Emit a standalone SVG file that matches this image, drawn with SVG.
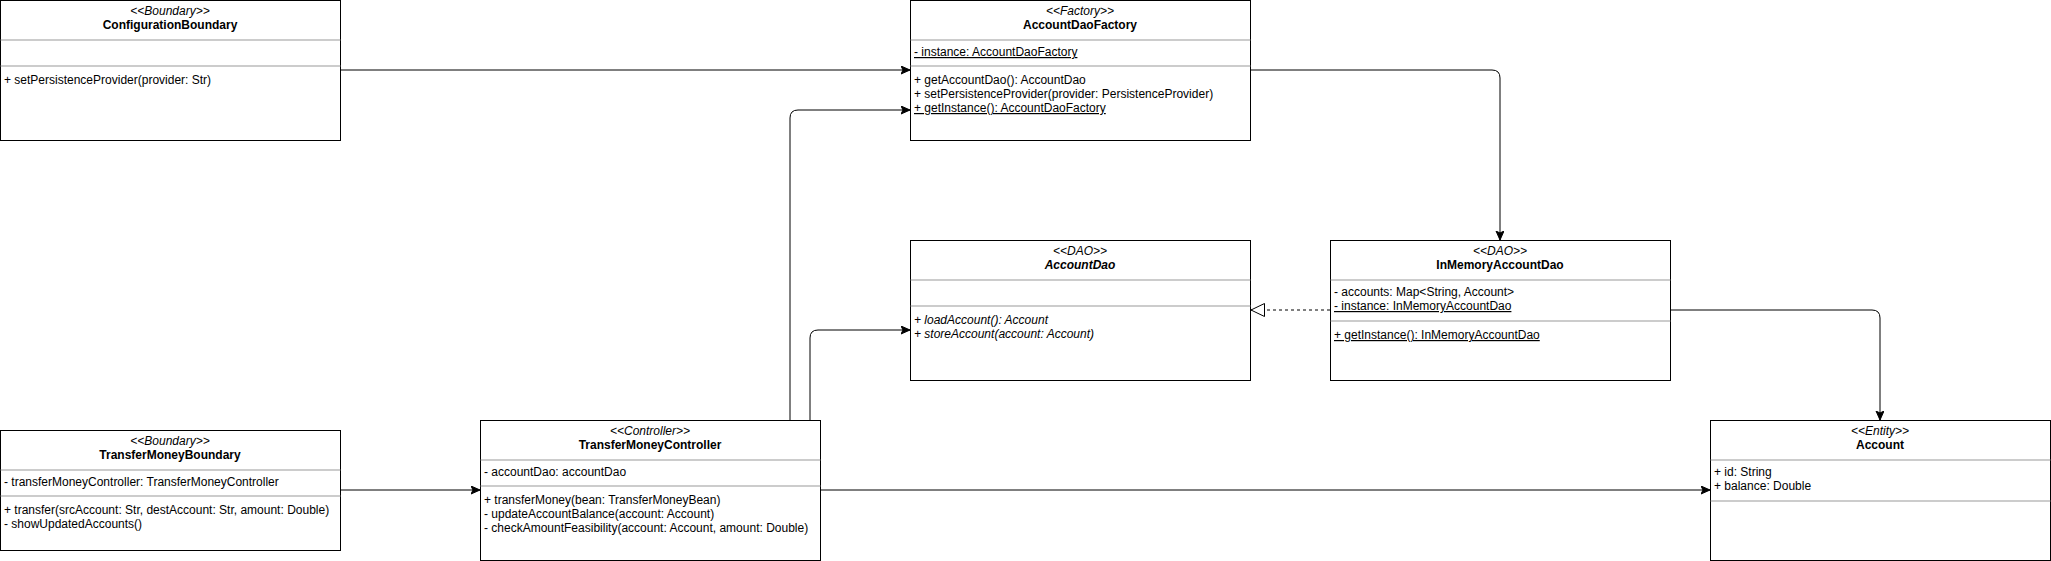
<svg xmlns="http://www.w3.org/2000/svg" width="2051" height="561" viewBox="0 0 2051 561">
<style>
text{font-family:"Liberation Sans",Arial,Helvetica,sans-serif;font-size:12px;fill:#000}
.st{font-style:italic;text-anchor:middle}
.nm{font-weight:bold;text-anchor:middle}
.it{font-style:italic}
.u{text-decoration:underline}
.box{fill:#fff;stroke:#000;stroke-width:1}
.sep{stroke:#999;stroke-width:1}
.edge{fill:none;stroke:#000;stroke-width:1}
.dash{stroke-dasharray:3 3}
</style>
<defs>
<marker id="arr" markerUnits="userSpaceOnUse" markerWidth="10" markerHeight="10" refX="9" refY="4" orient="auto">
<path d="M0,0 L9,4 L0,8 L2,4 Z" fill="#000" stroke="#000" stroke-width="1" stroke-linejoin="miter"/>
</marker>
<marker id="tri" markerUnits="userSpaceOnUse" markerWidth="16" markerHeight="16" refX="14" refY="7" orient="auto">
<path d="M0.5,0.5 L14,7 L0.5,13.5 Z" fill="#fff" stroke="#000" stroke-width="1" stroke-dasharray="none"/>
</marker>
</defs>

<g id="connectors">
<path class="edge" d="M340,70 H910" marker-end="url(#arr)"/>
<path class="edge" d="M1250,70 H1492 Q1500,70 1500,78 V240" marker-end="url(#arr)"/>
<path class="edge dash" d="M1330,310 H1251" marker-end="url(#tri)"/>
<path class="edge" d="M1670,310 H1872 Q1880,310 1880,318 V420" marker-end="url(#arr)"/>
<path class="edge" d="M340,490 H480" marker-end="url(#arr)"/>
<path class="edge" d="M820,490 H1710" marker-end="url(#arr)"/>
<path class="edge" d="M790,420 V118 Q790,110 798,110 H910" marker-end="url(#arr)"/>
<path class="edge" d="M810,420 V338 Q810,330 818,330 H910" marker-end="url(#arr)"/>
</g>

<g id="ConfigurationBoundary">
<rect class="box" x="0.5" y="0.5" width="340" height="140"/>
<line class="sep" x1="0.5" y1="40" x2="340.5" y2="40"/>
<line class="sep" x1="0.5" y1="66" x2="340.5" y2="66"/>
<text class="st" x="170" y="15">&lt;&lt;Boundary&gt;&gt;</text>
<text class="nm" x="170" y="29">ConfigurationBoundary</text>
<text x="4" y="84">+ setPersistenceProvider(provider: Str)</text>
</g>

<g id="AccountDaoFactory">
<rect class="box" x="910.5" y="0.5" width="340" height="140"/>
<line class="sep" x1="910.5" y1="40" x2="1250.5" y2="40"/>
<line class="sep" x1="910.5" y1="66" x2="1250.5" y2="66"/>
<text class="st" x="1080" y="15">&lt;&lt;Factory&gt;&gt;</text>
<text class="nm" x="1080" y="29">AccountDaoFactory</text>
<text class="u" x="914" y="56">- instance: AccountDaoFactory</text>
<text x="914" y="84">+ getAccountDao(): AccountDao</text>
<text x="914" y="98">+ setPersistenceProvider(provider: PersistenceProvider)</text>
<text class="u" x="914" y="112">+ getInstance(): AccountDaoFactory</text>
</g>

<g id="AccountDao">
<rect class="box" x="910.5" y="240.5" width="340" height="140"/>
<line class="sep" x1="910.5" y1="280" x2="1250.5" y2="280"/>
<line class="sep" x1="910.5" y1="306" x2="1250.5" y2="306"/>
<text class="st" x="1080" y="255">&lt;&lt;DAO&gt;&gt;</text>
<text class="nm it" x="1080" y="269">AccountDao</text>
<text class="it" x="914" y="324">+ loadAccount(): Account</text>
<text class="it" x="914" y="338">+ storeAccount(account: Account)</text>
</g>

<g id="InMemoryAccountDao">
<rect class="box" x="1330.5" y="240.5" width="340" height="140"/>
<line class="sep" x1="1330.5" y1="280" x2="1670.5" y2="280"/>
<line class="sep" x1="1330.5" y1="321" x2="1670.5" y2="321"/>
<text class="st" x="1500" y="255">&lt;&lt;DAO&gt;&gt;</text>
<text class="nm" x="1500" y="269">InMemoryAccountDao</text>
<text x="1334" y="296">- accounts: Map&lt;String, Account&gt;</text>
<text class="u" x="1334" y="310">- instance: InMemoryAccountDao</text>
<text class="u" x="1334" y="339">+ getInstance(): InMemoryAccountDao</text>
</g>

<g id="TransferMoneyBoundary">
<rect class="box" x="0.5" y="430.5" width="340" height="120"/>
<line class="sep" x1="0.5" y1="470" x2="340.5" y2="470"/>
<line class="sep" x1="0.5" y1="496" x2="340.5" y2="496"/>
<text class="st" x="170" y="445">&lt;&lt;Boundary&gt;&gt;</text>
<text class="nm" x="170" y="459">TransferMoneyBoundary</text>
<text x="4" y="486">- transferMoneyController: TransferMoneyController</text>
<text x="4" y="514">+ transfer(srcAccount: Str, destAccount: Str, amount: Double)</text>
<text x="4" y="528">- showUpdatedAccounts()</text>
</g>

<g id="TransferMoneyController">
<rect class="box" x="480.5" y="420.5" width="340" height="140"/>
<line class="sep" x1="480.5" y1="460" x2="820.5" y2="460"/>
<line class="sep" x1="480.5" y1="486" x2="820.5" y2="486"/>
<text class="st" x="650" y="435">&lt;&lt;Controller&gt;&gt;</text>
<text class="nm" x="650" y="449">TransferMoneyController</text>
<text x="484" y="476">- accountDao: accountDao</text>
<text x="484" y="504">+ transferMoney(bean: TransferMoneyBean)</text>
<text x="484" y="518">- updateAccountBalance(account: Account)</text>
<text x="484" y="532">- checkAmountFeasibility(account: Account, amount: Double)</text>
</g>

<g id="Account">
<rect class="box" x="1710.5" y="420.5" width="340" height="140"/>
<line class="sep" x1="1710.5" y1="460" x2="2050.5" y2="460"/>
<line class="sep" x1="1710.5" y1="501" x2="2050.5" y2="501"/>
<text class="st" x="1880" y="435">&lt;&lt;Entity&gt;&gt;</text>
<text class="nm" x="1880" y="449">Account</text>
<text x="1714" y="476">+ id: String</text>
<text x="1714" y="490">+ balance: Double</text>
</g>
</svg>
